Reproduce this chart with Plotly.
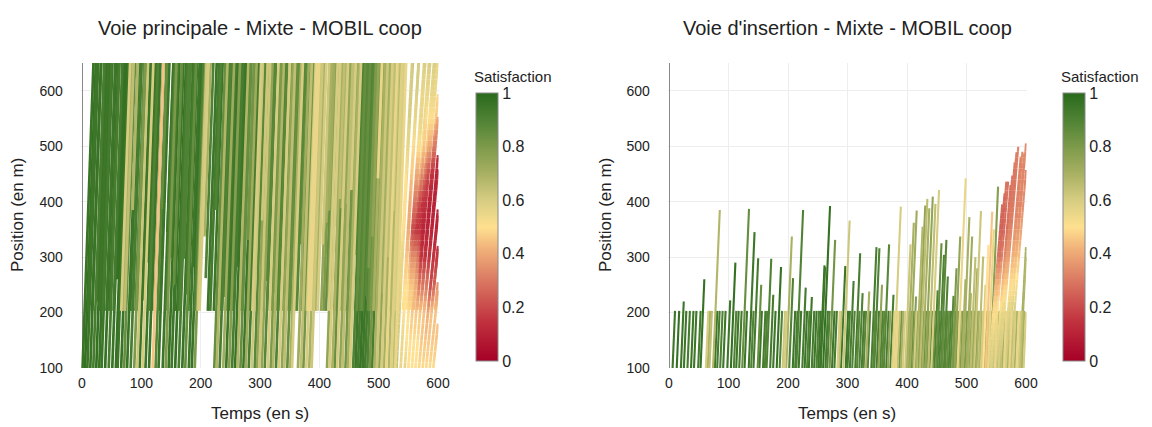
import plotly.graph_objects as go
from plotly.colors import sample_colorscale

FONT = "Liberation Sans, Arial, Helvetica, sans-serif"

# ---------------- data ----------------
knots = [100, 150, 200, 250, 300, 350, 400, 450, 500, 550, 600, 650]  # positions (m) of satisfaction profiles
sim_end = 600          # s
main_speed = 30        # m/s, free flow on the main lane
ins_speed = 25         # m/s, free flow on the insertion lane
road_end = 650         # m

# Main lane, through vehicles entering at 100 m
main_t = [1, 5, 9, 14, 19, 24, 29, 33, 39, 45, 51, 57, 60, 66, 71, 76, 82, 88, 93, 97,
          102, 107, 113, 119, 124, 129, 136, 141, 146, 151, 157, 163, 169, 174, 180, 185, 190,
          223, 227, 232, 238, 243, 248, 253, 258, 262, 267, 272, 276, 281, 286, 291, 295, 299,
          303, 308, 313, 318, 322, 327, 332, 337, 341, 346, 351, 354, 364, 369, 373, 378, 383, 387,
          413, 417, 422, 426, 430, 435, 439, 444, 448, 452, 457, 461, 465, 469, 473, 477, 481, 485,
          489, 493, 497, 501, 505, 509, 513, 517, 521, 525, 528]
main_s = [.96, .97, .95, .96, .92, .97, .96, .95, .97, .92, .96, .97, .95, .96, .85, .96, .92, .8, .62, .96,
          .6, .95, .96, .45, .88, .96, .95, .8, .96, .95, .97, .92, .96, .85, .95, .96, .8,
          .85, .68, .92, .72, .95, .78, .92, .96, .68, .85, .95, .72, .92, .62, .88, .75, .62,
          .75, .88, .6, .8, .68, .9, .6, .75, .65, .85, .7, .6, .72, .65, .82, .6, .7, .62,
          .75, .6, .7, .85, .6, .75, .65, .82, .7, .6, .9, .95, .93, .96, .95, .93, .9, .82,
          .92, .7, .62, .75, .6, .7, .55, .68, .58, .65, .55]

# Main lane, congested vehicles at the end of the run (start time, start position, speed, profile on knots)
cong_t0 = [530, 534, 537, 541, 544, 547, 550, 553, 556, 559, 562, 565, 568, 571, 574, 577, 580, 583, 586, 589, 592, 595]
cong_p0 = [100, 205, 100, 205, 100, 205, 100, 205, 100, 205, 100, 205, 100, 205, 100, 205, 100, 205, 100, 205, 100, 205]
cong_v = [20, 20, 18, 17, 16, 15, 15, 14, 14, 13, 13, 13, 12, 12, 11, 11, 11, 10, 10, 10, 10, 10]
cong_s = [
    [.65, .6, .6, .55, .55, .55, .5, .55, .55, .6, .6, .65],
    [.6, .6, .6, .6, .55, .5, .5, .5, .55, .6, .6, .6],
    [.55, .55, .5, .5, .45, .4, .45, .5, .55, .55, .6, .6],
    [.5, .5, .5, .5, .45, .4, .4, .45, .5, .55, .6, .6],
    [.55, .5, .5, .45, .35, .2, .3, .4, .5, .55, .55, .6],
    [.5, .5, .5, .5, .4, .2, .3, .4, .5, .55, .55, .6],
    [.5, .5, .45, .45, .35, .15, .2, .35, .45, .5, .55, .6],
    [.5, .5, .5, .45, .35, .15, .25, .4, .5, .55, .55, .6],
    [.5, .5, .45, .4, .2, .1, .15, .25, .4, .5, .55, .6],
    [.45, .45, .45, .4, .3, .15, .15, .3, .45, .5, .55, .6],
    [.5, .5, .45, .35, .15, .1, .1, .15, .3, .45, .5, .55],
    [.45, .45, .45, .3, .15, .1, .15, .2, .4, .5, .55, .55],
    [.5, .45, .45, .3, .15, .1, .1, .1, .15, .2, .2, .2],
    [.45, .45, .45, .3, .15, .1, .1, .15, .3, .4, .5, .5],
    [.5, .45, .4, .2, .15, .1, .1, .1, .1, .1, .1, .1],
    [.45, .45, .45, .35, .15, .1, .1, .15, .2, .2, .2, .2],
    [.5, .45, .45, .25, .15, .15, .15, .15, .15, .15, .15, .15],
    [.5, .5, .5, .3, .15, .1, .15, .15, .15, .15, .15, .15],
    [.5, .45, .45, .35, .3, .3, .3, .3, .3, .3, .3, .3],
    [.45, .45, .45, .3, .2, .2, .2, .2, .2, .2, .2, .2],
    [.5, .45, .45, .45, .45, .45, .45, .45, .45, .45, .45, .45],
    [.45, .45, .45, .35, .35, .35, .35, .35, .35, .35, .35, .35],
]

# Insertion lane vehicles (entry time at 100 m, position where they leave the lane, satisfaction)
ins_t = [6, 13, 20, 25, 31, 37, 42, 49, 53, 62, 65, 68, 74, 77, 81, 86, 91, 98, 104, 109, 113, 118,
         123, 127, 134, 138, 142, 149, 152, 158, 161, 164, 170, 175, 181, 186, 191, 194, 197, 202, 208, 212,
         214, 218, 224, 228, 232, 235, 240, 244, 248, 251, 254, 255, 259, 263, 266, 270, 274, 278, 283, 286, 289, 293, 297, 300,
         304, 308, 313, 316, 320, 324, 327, 331, 334, 340, 343, 345, 349, 352, 355, 358, 361, 365, 368, 372, 375, 377, 378, 381,
         384, 387, 390, 393, 397, 399,
         401, 403, 405, 407, 410, 412, 414, 416, 419, 421, 422, 424, 426, 428, 431, 433, 436, 438, 441, 443, 446, 449, 451, 454,
         457, 459, 462, 464, 467, 470, 473, 476, 478, 480, 482, 485, 487, 490, 492, 494, 497, 500,
         502, 505, 507, 509, 511, 513, 515, 517, 520, 522, 524, 526, 528, 530, 532, 534, 536, 538, 540, 542, 545, 548, 551, 554,
         557, 560, 563, 566, 569, 572, 575, 578, 581, 584, 587, 590, 593, 596]
ins_top = [203, 203, 220, 203, 203, 203, 203, 203, 260, 203, 203, 203, 385, 203, 203, 203, 203, 222, 290, 203, 203, 203,
           387, 203, 345, 203, 298, 250, 203, 203, 203, 297, 232, 203, 282, 203, 203, 203, 337, 262, 203, 203,
           385, 203, 245, 203, 203, 228, 203, 203, 203, 203, 285, 282, 392, 203, 203, 331, 203, 203, 203, 203, 284, 366, 203, 203,
           257, 203, 307, 203, 235, 203, 203, 238, 203, 318, 203, 316, 203, 250, 203, 203, 323, 203, 203, 232, 203, 203, 391, 203,
           203, 203, 203, 203, 323, 203,
           362, 203, 384, 203, 229, 203, 203, 355, 393, 203, 405, 203, 388, 203, 409, 203, 396, 203, 421, 203, 240, 325, 203, 304,
           331, 203, 265, 203, 203, 203, 230, 280, 203, 337, 203, 442, 203, 203, 260, 372, 203, 337,
           235, 203, 300, 203, 280, 383, 203, 203, 301, 203, 203, 250, 322, 203, 382, 203, 350, 203, 427, 203, 203, 203, 203, 203,
           203, 203, 203, 203, 203, 203, 203, 203, 203, 203, 203, 203, 203, 203]
ins_s = [.95, .97, .95, .95, .93, .95, .95, .93, .97, .6, .7, .65, .68, .95, .93, .9, .95, .95, .97, .9, .95, .93,
         .85, .95, .95, .9, .93, .85, .95, .93, .9, .9, .93, .95, .97, .9, .62, .6, .7, .9, .95, .93,
         .9, .95, .93, .95, .9, .95, .93, .95, .9, .95, .97, .95, .97, .93, .9, .82, .95, .93, .6, .65, .95, .62, .95, .93,
         .92, .9, .92, .88, .9, .92, .88, .7, .9, .92, .88, .9, .92, .75, .9, .88, .88, .92, .75, .92, .6, .55, .6, .55,
         .65, .82, .7, .6, .62, .75,
         .7, .8, .72, .85, .78, .6, .85, .68, .75, .8, .65, .88, .7, .85, .75, .8, .65, .88, .6, .85, .9, .85, .9, .9,
         .88, .85, .9, .88, .85, .9, .88, .8, .85, .75, .8, .55, .7, .8, .7, .7, .8, .72,
         .7, .75, .65, .8, .7, .62, .85, .7, .65, .8, .6, .6, .5, .75, .45, .65, .55, .7, .78, .6, .7, .55, .75, .6,
         .65, .7, .55, .6, .7, .55, .65, .6, .7, .55, .6, .65, .7, .6]

# Insertion lane, slow vehicles at the end of the run (profile on knots 100..500)
ins_late_t0 = [537, 540, 541, 544, 549, 550, 553, 554, 556, 562, 564, 567, 569, 573, 589, 590]
ins_late_t1 = [560, 564, 567, 570, 574, 577, 581, 584, 587, 591, 594, 597, 600, 600, 600, 600]
ins_late_top = [395, 415, 436, 436, 430, 447, 471, 489, 499, 481, 490, 487, 505, 457, 318, 300]
ins_late_s = [
    [.6, .55, .5, .42, .3, .25, .27, .3, .32],
    [.6, .55, .5, .42, .3, .25, .27, .3, .32],
    [.6, .55, .5, .42, .3, .25, .27, .3, .32],
    [.62, .58, .52, .44, .32, .26, .28, .3, .32],
    [.62, .58, .52, .44, .34, .28, .29, .3, .32],
    [.65, .6, .55, .47, .38, .32, .3, .3, .32],
    [.65, .6, .55, .47, .38, .32, .3, .3, .32],
    [.65, .6, .55, .47, .38, .32, .3, .3, .32],
    [.65, .6, .55, .47, .38, .32, .3, .3, .32],
    [.67, .62, .57, .5, .42, .35, .32, .32, .33],
    [.68, .63, .58, .5, .43, .36, .33, .33, .34],
    [.68, .63, .58, .5, .43, .36, .33, .33, .34],
    [.7, .65, .6, .52, .45, .38, .34, .33, .34],
    [.7, .65, .6, .52, .45, .38, .34, .33, .34],
    [.8, .78, .75, .72, .7, .7, .7, .7, .7],
    [.75, .72, .7, .68, .68, .68, .68, .68, .68],
]

colorscale = [[0, '#a50026'], [0.15, '#c1333f'], [0.3, '#da7862'], [0.42, '#f1b27a'],
              [0.5, '#fee08f'], [0.6, '#d6cd82'], [0.7, '#a8b062'], [0.8, '#7c9a4a'],
              [0.9, '#4f8234'], [1, '#2a6a1c']]

# ---------------- build segments (gradient strokes) ----------------
bins = {1: {}, 2: {}}


def sat_at(prof, p):
    if isinstance(prof, (int, float)):
        return prof
    ks = knots[:len(prof)]
    if p <= ks[0]:
        return prof[0]
    if p >= ks[-1]:
        return prof[-1]
    for i in range(len(ks) - 1):
        if ks[i] <= p <= ks[i + 1]:
            f = (p - ks[i]) / (ks[i + 1] - ks[i])
            return prof[i] + f * (prof[i + 1] - prof[i])
    return prof[-1]


def add_path(panel, t0, p0, v, p_end, prof):
    p_stop = min(p_end, p0 + v * (sim_end - t0))
    if p_stop <= p0:
        return
    if isinstance(prof, (int, float)):
        pts = [p0, p_stop]
    else:
        pts = [p0] + [q for q in range(110, 650, 10) if p0 < q < p_stop] + [p_stop]
    for a, b in zip(pts[:-1], pts[1:]):
        s = round(sat_at(prof, (a + b) / 2), 2)
        xs, ys = bins[panel].setdefault(s, ([], []))
        xs += [t0 + (a - p0) / v, t0 + (b - p0) / v, None]
        ys += [a, b, None]


for t0, s in zip(main_t, main_s):
    add_path(1, t0, 100, main_speed, road_end, s)
for t0, top, s in zip(ins_t, ins_top, ins_s):
    t_merge = t0 + (top - 100) / ins_speed
    if t_merge < 530:
        add_path(1, t_merge, top, main_speed, road_end, s)
for t0, p0, v, prof in zip(cong_t0, cong_p0, cong_v, cong_s):
    add_path(1, t0, p0, v, road_end, prof)

for t0, top, s in zip(ins_t, ins_top, ins_s):
    add_path(2, t0, 100, ins_speed, top, s)
for t0, t1, top, prof in zip(ins_late_t0, ins_late_t1, ins_late_top, ins_late_s):
    add_path(2, t0, 100, (top - 100) / (t1 - t0), top, prof)

fig = go.Figure()
for panel, width in ((1, 2.7), (2, 2.1)):
    xa, ya = ('x', 'y') if panel == 1 else ('x2', 'y2')
    for s in sorted(bins[panel].keys(), reverse=True):
        xs, ys = bins[panel][s]
        col = sample_colorscale(colorscale, [min(max(s, 0), 1)])[0]
        fig.add_trace(go.Scatter(x=xs, y=ys, mode='lines', line=dict(color=col, width=width),
                                 xaxis=xa, yaxis=ya, hoverinfo='skip', showlegend=False))
    fig.add_trace(go.Scatter(x=[None, None], y=[None, None], mode='markers',
                             marker=dict(color=[0, 1], size=0,
                                         coloraxis='coloraxis' if panel == 1 else 'coloraxis2'),
                             xaxis=xa, yaxis=ya, hoverinfo='skip', showlegend=False))

# page is offset by the 8px body margin
OFF = 8
W, H = 1144, 419


def fx(px):
    return (px - OFF) / W


def fy(py):
    return 1 - (py - OFF) / H


def xdom(x0px, x600px):
    pps = (x600px - x0px) / 600.0
    return [fx(x0px - 2 * pps), fx(x600px + 1 * pps)]


ydom = [fy(368), fy(63)]

axis_common = dict(range=[-2, 601], tickvals=[0, 100, 200, 300, 400, 500, 600],
                   showgrid=True, gridcolor='#ededed', gridwidth=1,
                   zeroline=True, zerolinecolor='#8a8a8a', zerolinewidth=1,
                   showline=False, ticks='', ticklabelstandoff=5,
                   tickfont=dict(size=14, color='#222'), automargin=False, fixedrange=True)
yaxis_common = dict(range=[100, 650], tickvals=[100, 200, 300, 400, 500, 600],
                    showgrid=True, gridcolor='#ededed', gridwidth=1, zeroline=False,
                    showline=False, ticks='', ticklabelstandoff=17,
                    tickfont=dict(size=14, color='#222'), automargin=False, fixedrange=True)

cbar_common = dict(xanchor='left', xpad=0, ypad=0, y=fy(361), yanchor='bottom',
                   len=268 / H, lenmode='fraction', thickness=22, thicknessmode='pixels',
                   outlinewidth=1, outlinecolor='#8a8a8a', ticks='',
                   tickvals=[0, 0.2, 0.4, 0.6, 0.8, 1], ticktext=['0', '0.2', '0.4', '0.6', '0.8', '1'],
                   tickfont=dict(size=16, color='#222'))

fig.update_layout(
    width=W, height=H, margin=dict(l=0, r=0, t=0, b=0),
    paper_bgcolor='white', plot_bgcolor='white',
    font=dict(family=FONT, size=14, color='#222'),
    showlegend=False,
    xaxis=dict(domain=xdom(82, 438), anchor='y', **axis_common),
    yaxis=dict(domain=ydom, anchor='x', **yaxis_common),
    xaxis2=dict(domain=xdom(669, 1026), anchor='y2', **axis_common),
    yaxis2=dict(domain=ydom, anchor='x2', **yaxis_common),
    coloraxis=dict(colorscale=colorscale, cmin=0, cmax=1,
                   colorbar=dict(x=fx(475.5), **cbar_common)),
    coloraxis2=dict(colorscale=colorscale, cmin=0, cmax=1,
                    colorbar=dict(x=fx(1063), **cbar_common)),
)

annotations = []
for cx, title in ((260, 'Voie principale - Mixte - MOBIL coop'), (847, "Voie d'insertion - Mixte - MOBIL coop")):
    annotations.append(dict(text=title, x=fx(cx), y=fy(28), xref='paper', yref='paper',
                            xanchor='center', yanchor='middle', showarrow=False,
                            font=dict(size=20, color='#222')))
    annotations.append(dict(text='Temps (en s)', x=fx(cx), y=fy(413), xref='paper', yref='paper',
                            xanchor='center', yanchor='middle', showarrow=False,
                            font=dict(size=17, color='#222')))
for lx in (18, 606):
    annotations.append(dict(text='Position (en m)', x=fx(lx), y=fy(215), xref='paper', yref='paper',
                            xanchor='center', yanchor='middle', showarrow=False, textangle=-90,
                            font=dict(size=17, color='#222')))
for bx in (472, 1059):
    annotations.append(dict(text='Satisfaction', x=fx(bx), y=fy(76), xref='paper', yref='paper',
                            xanchor='left', yanchor='middle', showarrow=False,
                            font=dict(size=15, color='#222')))
fig.update_layout(annotations=annotations)

fig.write_html("out.html")
